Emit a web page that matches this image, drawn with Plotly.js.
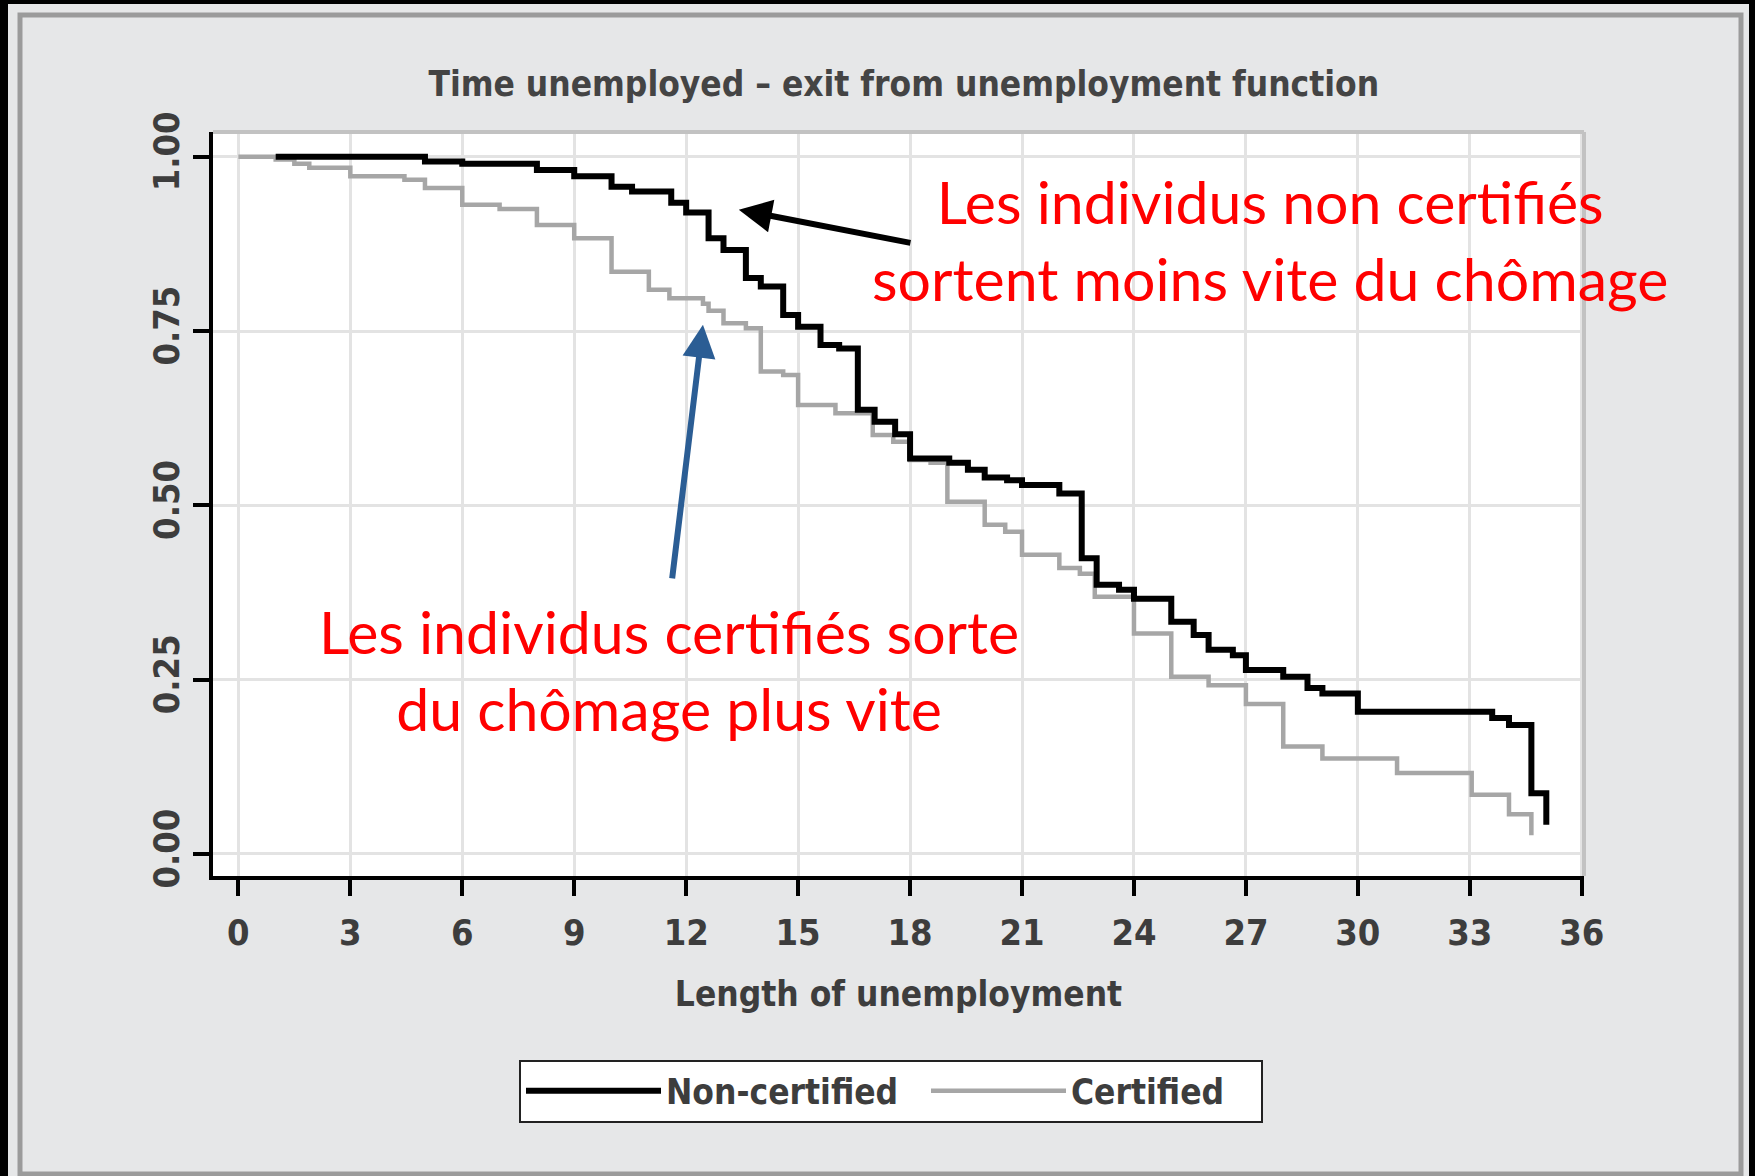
<!DOCTYPE html>
<html>
<head>
<meta charset="utf-8">
<script src="https://cdn.plot.ly/plotly-3.0.1.min.js"></script>
<style>html,body{margin:0;padding:0;background:#000;}#chart{width:1755px;height:1176px;}</style>
</head>
<body>
<div id="chart"></div>
<script>
// ---- data (Kaplan-Meier style step curves) ----
const seriesNames = ["Non-certified", "Certified"];

const monthsNonCertified = [1, 5.0, 6.0, 8.0, 9.0, 10.0, 10.55, 11.6, 12.0, 12.6, 13.0, 13.6, 14.0, 14.6, 15.0, 15.6, 16.1, 16.6, 17.05, 17.6, 18.0, 19.05, 19.55, 20.0, 20.6, 21.0, 22.0, 22.6, 23.0, 23.6, 24.0, 25.0, 25.6, 26.0, 26.65, 27.0, 28.0, 28.65, 29.05, 30.0, 33.6, 34.05, 34.65, 35.05];
const survNonCertified = [1.0, 0.993, 0.990, 0.981, 0.972, 0.957, 0.950, 0.934, 0.920, 0.883, 0.866, 0.826, 0.814, 0.773, 0.756, 0.730, 0.725, 0.637, 0.620, 0.602, 0.567, 0.561, 0.551, 0.540, 0.536, 0.529, 0.517, 0.424, 0.386, 0.379, 0.366, 0.333, 0.314, 0.293, 0.285, 0.264, 0.254, 0.238, 0.230, 0.204, 0.195, 0.185, 0.087, 0.042];

const monthsCertified = [0, 1.0, 1.5, 1.9, 3.0, 4.45, 5.0, 6.0, 7.0, 8.0, 9.0, 10.0, 11.0, 11.55, 12.45, 12.6, 13.0, 13.6, 14.0, 14.6, 15.0, 16.0, 17.0, 17.55, 18.0, 18.55, 19.0, 20.0, 20.55, 21.0, 22.0, 22.55, 22.95, 24.0, 25.0, 26.0, 27.0, 28.0, 29.05, 31.05, 33.05, 34.05, 34.65];
const survCertified = [1.0, 0.996, 0.990, 0.984, 0.972, 0.967, 0.955, 0.931, 0.925, 0.902, 0.883, 0.835, 0.809, 0.797, 0.789, 0.779, 0.761, 0.754, 0.692, 0.687, 0.644, 0.632, 0.601, 0.591, 0.565, 0.561, 0.505, 0.472, 0.462, 0.429, 0.410, 0.402, 0.369, 0.316, 0.254, 0.242, 0.215, 0.154, 0.137, 0.116, 0.085, 0.057, 0.027];

const xTickVals = [0, 3, 6, 9, 12, 15, 18, 21, 24, 27, 30, 33, 36];
const yTickVals = [0, 0.25, 0.5, 0.75, 1.0];
const yTickText = ["0.00", "0.25", "0.50", "0.75", "1.00"];

const chartTitle = "Time unemployed \u2013 exit from unemployment function";
const xTitle = "Length of unemployment";
const noteNonCert = "Les individus non certifiés<br>sortent moins vite du chômage";
const noteCert = "Les individus certifiés sorte<br>du chômage plus vite";

// ---- styling ----
const narrow = "Liberation Sans Narrow, DejaVu Sans Condensed, Arial Narrow, sans-serif";
const textGrey = "#3d3d3d";

const traces = [
  {
    x: monthsCertified, y: survCertified, name: seriesNames[1],
    type: "scatter", mode: "lines", line: {shape: "hv", color: "#a6a6a6", width: 4.5},
    legendwidth: 185
  },
  {
    x: monthsNonCertified, y: survNonCertified, name: seriesNames[0],
    type: "scatter", mode: "lines", line: {shape: "hv", color: "#000000", width: 6},
    legendwidth: 255
  }
];

// plot area in pixels: left 213, right 1584, top 132, bottom 876
const L = 213, R = 1584, T = 132, B = 876;
const px = v => (v - L) / (R - L);
const py = v => (B - v) / (B - T);

const layout = {
  width: 1755, height: 1176,
  margin: {l: L, r: 1755 - R, t: T, b: 1176 - B, pad: 0},
  paper_bgcolor: "#e6e7e8",
  plot_bgcolor: "#ffffff",
  showlegend: true,
  title: {
    text: chartTitle,
    font: {family: narrow, size: 35, color: "#444444", weight: "bold"},
    x: 0.515, xanchor: "center", xref: "container",
    y: 1 - 84 / 1176, yanchor: "middle", yref: "container"
  },
  xaxis: {
    range: [-0.68, 36.06],
    tickvals: xTickVals,
    ticks: "outside", ticklen: 16, tickwidth: 4, tickcolor: "#000",
    showline: true, linecolor: "#000", linewidth: 4,
    showgrid: true, gridcolor: "#e3e3e3", gridwidth: 3,
    zeroline: false,
    ticklabelstandoff: 6,
    tickfont: {family: narrow, size: 36, color: textGrey, weight: "bold"},
    title: {text: xTitle, standoff: 30, font: {family: narrow, size: 35, color: textGrey, weight: "bold"}},
    fixedrange: true
  },
  yaxis: {
    range: [-0.0316, 1.0354],
    tickvals: yTickVals, ticktext: yTickText,
    tickangle: -90,
    ticks: "outside", ticklen: 16, tickwidth: 4, tickcolor: "#000",
    showline: true, linecolor: "#000", linewidth: 4,
    showgrid: true, gridcolor: "#e3e3e3", gridwidth: 3,
    zeroline: false,
    ticklabelstandoff: 0,
    tickfont: {family: narrow, size: 36, color: textGrey, weight: "bold"},
    fixedrange: true
  },
  legend: {
    orientation: "h",
    traceorder: "reversed",
    x: px(891), xanchor: "center",
    y: py(1091), yanchor: "middle",
    bgcolor: "#ffffff", bordercolor: "#222222", borderwidth: 2,
    font: {family: narrow, size: 35, color: textGrey, weight: "bold"},
    entrywidthmode: "pixels",
    itemwidth: 135
  },
  shapes: [
    // top/right light border of the plot frame
    {type: "line", xref: "paper", yref: "paper", x0: 0, x1: 1, y0: 1, y1: 1, line: {color: "#c2c2c2", width: 4}, layer: "above"},
    {type: "line", xref: "paper", yref: "paper", x0: 1, x1: 1, y0: 0, y1: 1, line: {color: "#c2c2c2", width: 4}, layer: "above"},
    // panel border
    {type: "rect", xref: "paper", yref: "paper", x0: px(20), x1: px(1741), y0: py(1174), y1: py(15), line: {color: "#9b9b9b", width: 5}, layer: "below"},
    // outer black frame
    {type: "rect", xref: "paper", yref: "paper", x0: px(0), x1: px(8), y0: py(1180), y1: py(-4), fillcolor: "#000", line: {width: 0}, layer: "below"},
    {type: "rect", xref: "paper", yref: "paper", x0: px(0), x1: px(1760), y0: py(4), y1: py(-4), fillcolor: "#000", line: {width: 0}, layer: "below"},
    {type: "rect", xref: "paper", yref: "paper", x0: px(1749), x1: px(1760), y0: py(1180), y1: py(-4), fillcolor: "#000", line: {width: 0}, layer: "below"}
  ],
  annotations: [
    {
      text: noteNonCert, x: 27.64, y: 0.88, xref: "x", yref: "y",
      showarrow: false, align: "center", xanchor: "center", yanchor: "middle",
      font: {family: "Lato, Noto Sans, sans-serif", size: 59, color: "#ff0000"}
    },
    {
      text: noteCert, x: 11.54, y: 0.264, xref: "x", yref: "y",
      showarrow: false, align: "center", xanchor: "center", yanchor: "middle",
      font: {family: "Lato, Noto Sans, sans-serif", size: 59, color: "#ff0000"}
    },
    {
      text: "", x: 13.41, y: 0.924, xref: "x", yref: "y",
      ax: 18.05, ay: 0.876, axref: "x", ayref: "y",
      showarrow: true, arrowhead: 2, arrowsize: 1.1, arrowwidth: 6, arrowcolor: "#000000", standoff: 0
    },
    {
      text: "", x: 12.45, y: 0.759, xref: "x", yref: "y",
      ax: 11.62, ay: 0.393, axref: "x", ayref: "y",
      showarrow: true, arrowhead: 2, arrowsize: 1.1, arrowwidth: 6, arrowcolor: "#2b5d94", standoff: 0
    }
  ]
};

Plotly.newPlot("chart", traces, layout, {displayModeBar: false, staticPlot: true});
</script>
</body>
</html>
